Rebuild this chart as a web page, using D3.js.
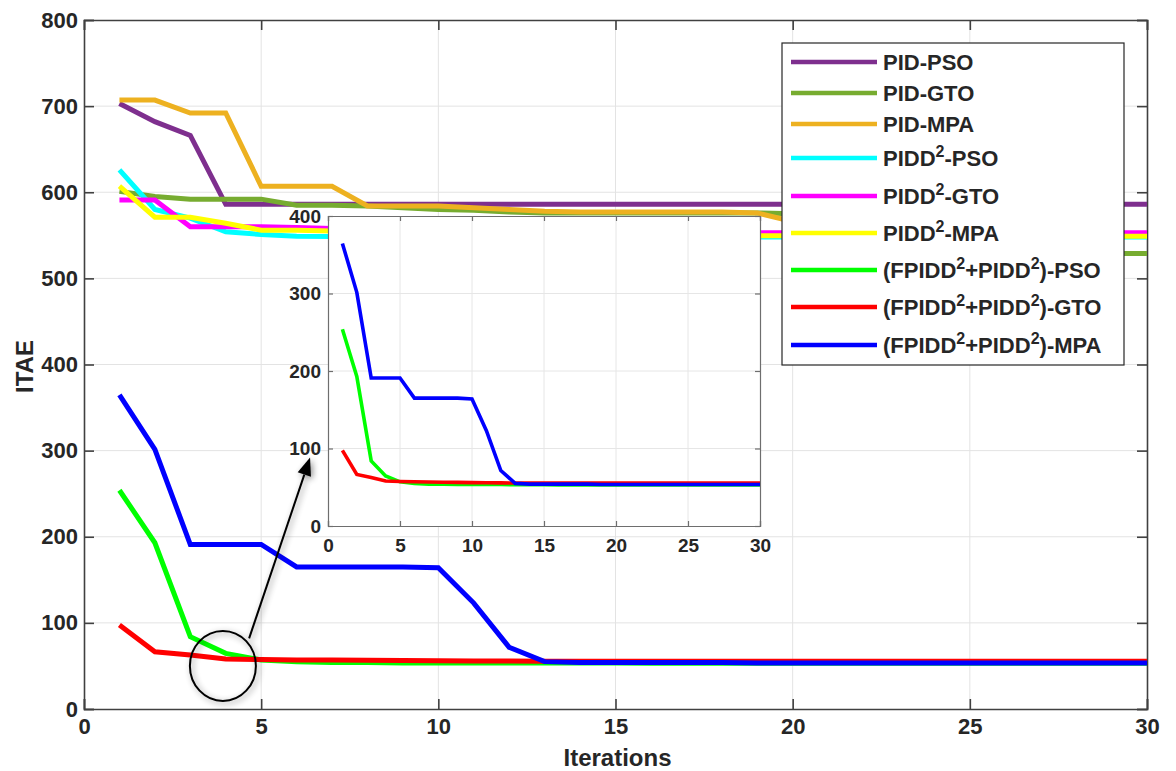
<!DOCTYPE html>
<html>
<head>
<meta charset="utf-8">
<script src="https://cdn.jsdelivr.net/npm/d3@7"></script>
<style>
  body { margin: 0; background: #fff; }
  text { font-family: "Liberation Sans", Arial, sans-serif; font-weight: bold; fill: #262626; }
</style>
</head>
<body>
<div id="chart"></div>
<script>
// iterations 1..30
const iterations = d3.range(1, 31);

const pidPso   = [703, 682, 666, 586, 586, 586, 586, 586, 586, 586, 586, 586, 586, 586, 586, 586, 586, 586, 586, 586, 586, 586, 586, 586, 586, 586, 586, 586, 586, 586];
const pidGto   = [601, 595, 592, 592, 592, 585, 585, 584, 582, 580, 579, 577, 576, 576, 576, 576, 576, 576, 576, 575, 572, 565, 555, 545, 538, 533, 531, 530, 529, 529];
const pidMpa   = [707, 707, 692, 692, 607, 607, 607, 584, 584, 584, 582, 580, 578, 577, 577, 577, 577, 577, 576, 566, 560, 556, 553, 552, 551, 551, 551, 551, 551, 551];
const piddPso  = [626, 580, 570, 554, 551, 549, 548.5, 548, 548, 548, 548, 548, 548, 548, 548, 548, 548, 548, 548, 548, 548, 548, 548, 548, 548, 548, 548, 548, 548, 548];
const piddGto  = [591, 591, 560, 560, 560, 559, 558, 557, 556, 555, 555, 554, 554, 554, 553.5, 553.5, 553, 553, 553, 553, 553, 553, 553, 553, 553, 553, 553, 553, 553, 553];
const piddMpa  = [607, 571, 571, 564, 556, 556, 555, 554, 553, 552, 551, 551, 550, 550, 550, 550, 549.5, 549.5, 549.5, 549.5, 549, 549, 549, 549, 549, 549, 549, 549, 549, 549];
const fpiddPso = [254, 193, 84, 64.6, 57, 55, 54, 54, 53.5, 53.5, 53.5, 53.5, 53.3, 53.3, 53.3, 53, 53, 53, 53, 53, 53, 53, 53, 53, 53, 53, 53, 53, 53, 53];
const fpiddGto = [97.5, 66.5, 62.7, 58, 57.5, 57, 56.8, 56.5, 56.3, 56, 55.8, 55.6, 55.5, 55.5, 55.5, 55.5, 55.5, 55.5, 55.5, 55.5, 55.5, 55.5, 55.5, 55.5, 55.5, 55.5, 55.5, 55.5, 55.5, 55.5];
const fpiddMpa = [364.6, 301.5, 191, 191, 191, 165, 165, 165, 165, 164, 123, 71.6, 55, 54, 54, 54, 54, 54, 53.5, 53.5, 53.5, 53.5, 53.5, 53.5, 53.5, 53.5, 53.5, 53.5, 53.5, 53.5];

const seriesNames = ["PID-PSO", "PID-GTO", "PID-MPA", "PIDD2-PSO", "PIDD2-GTO", "PIDD2-MPA",
                     "(FPIDD2+PIDD2)-PSO", "(FPIDD2+PIDD2)-GTO", "(FPIDD2+PIDD2)-MPA"];
const seriesValues = [pidPso, pidGto, pidMpa, piddPso, piddGto, piddMpa, fpiddPso, fpiddGto, fpiddMpa];
const colors = ["#7E2F8E", "#77AC30", "#EDB120", "#00FFFF", "#FF00FF", "#FFFF00", "#00FF00", "#FF0000", "#0000FF"];

const xTicks = [0, 5, 10, 15, 20, 25, 30];
const yTicks = [0, 100, 200, 300, 400, 500, 600, 700, 800];
const insetYTicks = [0, 100, 200, 300, 400];

const series = seriesNames.map((n, i) => ({ name: n, color: colors[i], values: seriesValues[i] }));

const width = 1176, height = 771;
const margin = { top: 20, right: 29, bottom: 62, left: 84 };
const w = width - margin.left - margin.right;
const h = height - margin.top - margin.bottom;

const svg = d3.select("#chart").append("svg")
    .attr("width", width)
    .attr("height", height);

const defs = svg.append("defs");
defs.append("clipPath").attr("id", "clipMain")
    .append("rect").attr("width", w).attr("height", h);
const shadow = defs.append("filter").attr("id", "shadow")
    .attr("x", "-50%").attr("y", "-50%").attr("width", "200%").attr("height", "200%");
shadow.append("feGaussianBlur").attr("in", "SourceAlpha").attr("stdDeviation", 3).attr("result", "b");
shadow.append("feOffset").attr("dx", 2).attr("dy", 2).attr("result", "o");
shadow.append("feComponentTransfer").append("feFuncA").attr("type", "linear").attr("slope", 0.45);
const fm = shadow.append("feMerge");
fm.append("feMergeNode");
fm.append("feMergeNode").attr("in", "SourceGraphic");

const g = svg.append("g").attr("transform", `translate(${margin.left},${margin.top})`);

const x = d3.scaleLinear().domain([0, 30]).range([0, w]);
const y = d3.scaleLinear().domain([0, 800]).range([h, 0]);

// draws grid, box axes with inward ticks on all four sides
function drawAxes(sel, xs, ys, yt, tickLen, fontSize, padX, padY, strokeCol, gridCol, lw) {
    const W = xs.range()[1], H = ys.range()[0];
    sel.append("g").selectAll("line").data(xTicks.slice(1, -1)).enter().append("line")
        .attr("x1", d => xs(d)).attr("x2", d => xs(d)).attr("y1", 0).attr("y2", H)
        .attr("stroke", gridCol).attr("stroke-width", 1);
    sel.append("g").selectAll("line").data(yt.slice(1, -1)).enter().append("line")
        .attr("y1", d => ys(d)).attr("y2", d => ys(d)).attr("x1", 0).attr("x2", W)
        .attr("stroke", gridCol).attr("stroke-width", 1);

    const xb = sel.append("g").attr("transform", `translate(0,${H})`)
        .call(d3.axisBottom(xs).tickValues(xTicks).tickSize(-tickLen).tickPadding(padX));
    const xt = sel.append("g")
        .call(d3.axisTop(xs).tickValues(xTicks).tickSize(-tickLen).tickFormat(""));
    const yl = sel.append("g")
        .call(d3.axisLeft(ys).tickValues(yt).tickSize(-tickLen).tickPadding(padY));
    const yr = sel.append("g").attr("transform", `translate(${W},0)`)
        .call(d3.axisRight(ys).tickValues(yt).tickSize(-tickLen).tickFormat(""));
    [xb, xt, yl, yr].forEach(a => {
        a.select(".domain").attr("stroke", strokeCol).attr("stroke-width", lw);
        a.selectAll(".tick line").attr("stroke", strokeCol).attr("stroke-width", lw);
        a.selectAll("text").style("font-size", fontSize + "px").style("fill", "#262626")
            .style("font-family", "'Liberation Sans', Arial, sans-serif").style("font-weight", "bold");
    });
}

const line = d3.line().x((d, i) => x(iterations[i])).y(d => y(d));

drawAxes(g, x, y, yTicks, 10, 22, 9, 6, "#404040", "#e3e3e3", 1.6);

g.append("g").attr("clip-path", "url(#clipMain)")
    .selectAll("path").data(series).enter().append("path")
    .attr("d", d => line(d.values))
    .attr("fill", "none")
    .attr("stroke", d => d.color)
    .attr("stroke-width", 5)
    .attr("stroke-linejoin", "miter");

// axis labels
g.append("text")
    .attr("x", w / 2 + 2).attr("y", h + 57)
    .attr("text-anchor", "middle")
    .style("font-size", "24px")
    .text("Iterations");
g.append("text")
    .attr("transform", "rotate(-90)")
    .attr("x", -(y(400) + 2)).attr("y", -margin.left + 33)
    .attr("text-anchor", "middle")
    .style("font-size", "24px")
    .text("ITAE");

// zoom marker (circle + arrow)
const ann = g.append("g").attr("filter", "url(#shadow)");
ann.append("ellipse")
    .attr("cx", x(3.92)).attr("cy", y(50))
    .attr("rx", 33).attr("ry", 35)
    .attr("fill", "none").attr("stroke", "#000").attr("stroke-width", 2);
const ax1 = x(4.66), ay1 = y(82), ax2 = x(6.38), ay2 = y(292);
const ang = Math.atan2(ay2 - ay1, ax2 - ax1);
const hl = 18, hw = 7;
const bx = ax2 - Math.cos(ang) * hl, by = ay2 - Math.sin(ang) * hl;
ann.append("line")
    .attr("x1", ax1).attr("y1", ay1)
    .attr("x2", bx).attr("y2", by)
    .attr("stroke", "#000").attr("stroke-width", 2);
ann.append("path")
    .attr("d", `M${ax2},${ay2}L${bx + Math.sin(ang) * hw},${by - Math.cos(ang) * hw}L${bx - Math.sin(ang) * hw},${by + Math.cos(ang) * hw}Z`)
    .attr("fill", "#000");

// inset
const inset = { left: 328, top: 216, right: 760, bottom: 526 };
const ig = svg.append("g").attr("transform", `translate(${inset.left},${inset.top})`);
const iw = inset.right - inset.left, ih = inset.bottom - inset.top;
defs.append("clipPath").attr("id", "clipInset")
    .append("rect").attr("width", iw).attr("height", ih);
ig.append("rect").attr("width", iw).attr("height", ih).attr("fill", "#fff");
const xi = d3.scaleLinear().domain([0, 30]).range([0, iw]);
const yi = d3.scaleLinear().domain([0, 400]).range([ih, 0]);
drawAxes(ig, xi, yi, insetYTicks, 5, 19, 13, 7, "#6e6e6e", "#e6e6e6", 1.2);
const lineI = d3.line().x((d, i) => xi(iterations[i])).y(d => yi(d));
ig.append("g").attr("clip-path", "url(#clipInset)")
    .selectAll("path").data(series.slice(6)).enter().append("path")
    .attr("d", d => lineI(d.values))
    .attr("fill", "none")
    .attr("stroke", d => d.color)
    .attr("stroke-width", 3.6);

// legend
const legend = svg.append("g").attr("transform", "translate(782,43)");
legend.append("rect")
    .attr("width", 342).attr("height", 322)
    .attr("fill", "#fff").attr("stroke", "#262626").attr("stroke-width", 1.2);
const rowY = [19, 50, 81, 115, 153, 190, 227, 264, 302];
const items = legend.selectAll("g.item").data(series).enter().append("g")
    .attr("class", "item")
    .attr("transform", (d, i) => `translate(0,${rowY[i]})`);
items.append("line")
    .attr("x1", 9).attr("x2", 95)
    .attr("stroke", d => d.color).attr("stroke-width", 4.5);
items.each(function(d) {
    const t = d3.select(this).append("text")
        .attr("x", 101).attr("y", 8)
        .style("font-size", "22px");
    const parts = d.name.split("2");
    let shift = 0;
    parts.forEach((p, k) => {
        if (p.length) t.append("tspan").attr("dy", shift).text(p);
        shift = 0;
        if (k < parts.length - 1) {
            t.append("tspan").attr("dy", -9).style("font-size", "16px").text("2");
            shift = 9;
        }
    });
});
</script>
</body>
</html>
